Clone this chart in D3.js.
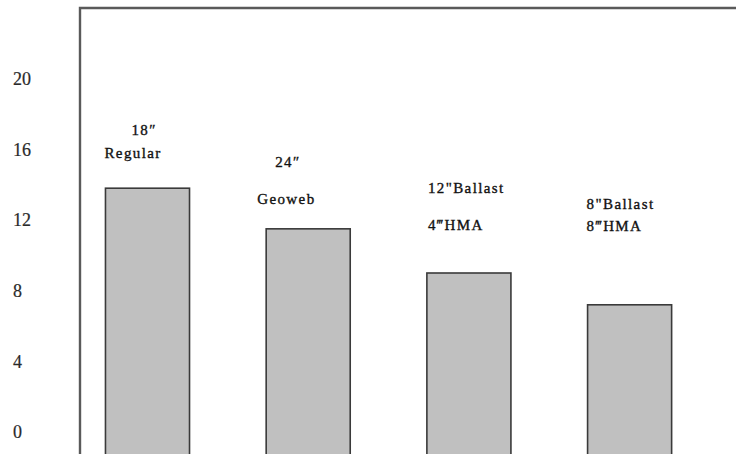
<!DOCTYPE html>
<html>
<head>
<meta charset="utf-8">
<script src="https://cdn.jsdelivr.net/npm/d3@7"></script>
<style>
  html, body { margin: 0; padding: 0; background: #fff; }
  svg { display: block; }
</style>
</head>
<body>
<svg id="chart" width="736" height="454"></svg>
<script>
// Section types and their measured values
const categories = ["18\u2033 Regular", "24\u2033 Geoweb", "12\"Ballast 4\u2033 HMA", "8\"Ballast 8\u2033 HMA"];
const values = [13.8, 11.5, 9.0, 7.2];
const tickValues = [0, 4, 8, 12, 16, 20];

// Two-line labels written above each bar
const labelLines = [
  ["18\u2033", "Regular"],
  ["24\u2033", "Geoweb"],
  ["12\"Ballast", "4\u2034HMA"],
  ["8\"Ballast", "8\u2034HMA"]
];
// Label layout: [dx of line 1, dx of line 2] from the bar's left edge,
// and [lift of line 1, lift of line 2] above the bar top (px)
const labelDx = [[26, -1], [9, -9], [1, 1], [-1, -1]];
const labelLift = [[53, 30], [62, 25], [80, 43], [96, 74]];

const W = 736, H = 454;
const frame = { left: 80, top: 8 };

const svg = d3.select("#chart");

const x = d3.scaleBand()
  .domain(categories)
  .range([66.9, 710.2])
  .paddingInner(0.477)
  .paddingOuter(0.24);

const y = d3.scaleLinear()
  .domain([0, 24])
  .range([432, frame.top]);

// Bars (the plot area continues below the visible edge)
svg.append("g")
  .selectAll("rect")
  .data(values)
  .join("rect")
  .attr("x", (d, i) => x(categories[i]))
  .attr("y", d => y(d))
  .attr("width", x.bandwidth())
  .attr("height", d => H + 10 - y(d))
  .attr("fill", "#c0c0c0")
  .attr("stroke", "#3a3a3a")
  .attr("stroke-width", 1.6);

// Plot frame: left and top edges
svg.append("path")
  .attr("d", `M${frame.left},${H + 5}V${frame.top}H${W + 5}`)
  .attr("fill", "none")
  .attr("stroke", "#5a5a5a")
  .attr("stroke-width", 2.4);

// Y axis labels
const yAxis = svg.append("g")
  .attr("transform", "translate(13,0)")
  .call(d3.axisLeft(y).tickValues(tickValues).tickSize(0).tickPadding(0));
yAxis.select(".domain").remove();
yAxis.selectAll("text")
  .attr("x", 0)
  .attr("text-anchor", "start")
  .attr("font-family", "'Liberation Serif', 'DejaVu Serif', serif")
  .attr("font-size", 18)
  .attr("fill", "#2a2a2a")
  .attr("stroke", "#2a2a2a")
  .attr("stroke-width", 0.2);

// Labels above the bars
const lab = svg.append("g")
  .attr("font-family", "'Liberation Serif', 'DejaVu Serif', serif")
  .attr("font-size", 15)
  .attr("letter-spacing", 1.4)
  .attr("fill", "#111")
  .attr("stroke", "#111")
  .attr("stroke-width", 0.35);

labelLines.forEach((lines, i) => {
  const left = x(categories[i]);
  const top = y(values[i]);
  lines.forEach((t, j) => {
    lab.append("text")
      .attr("x", left + labelDx[i][j])
      .attr("y", top - labelLift[i][j])
      .text(t);
  });
});
</script>
</body>
</html>
